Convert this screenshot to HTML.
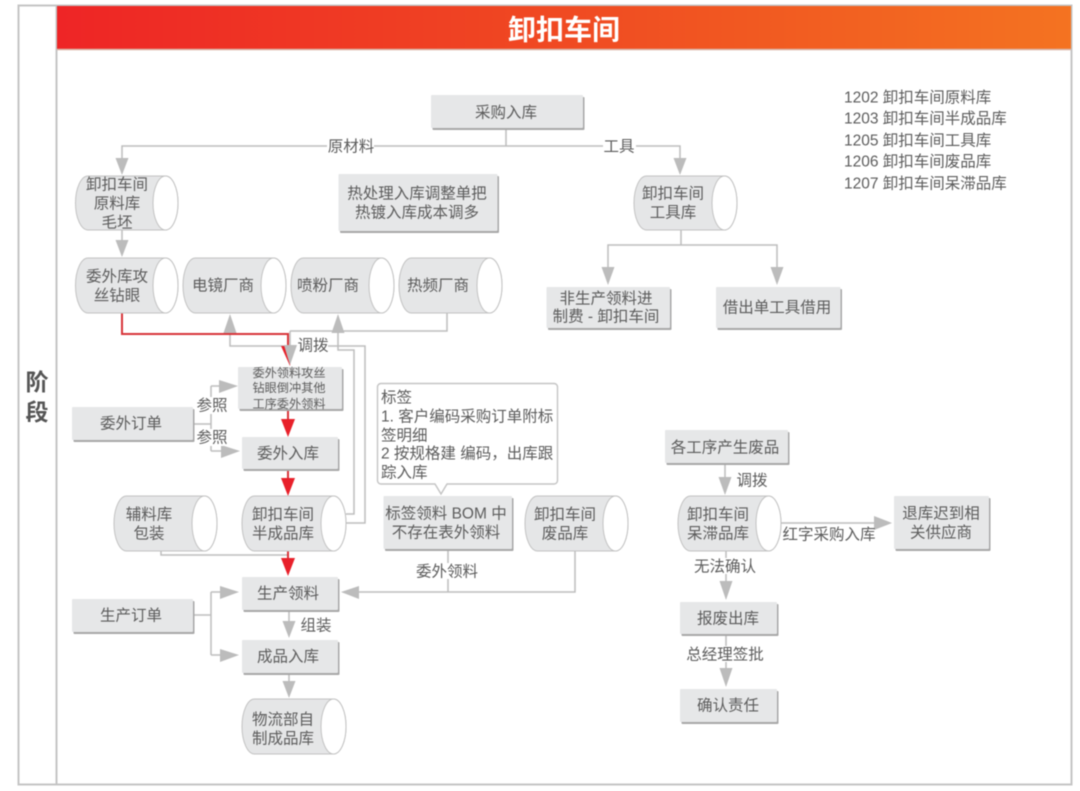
<!DOCTYPE html>
<html lang="zh">
<head>
<meta charset="utf-8">
<title>卸扣车间</title>
<style>
html,body{margin:0;padding:0;background:#fff;width:1080px;height:791px;overflow:hidden}
svg{display:block;filter:blur(.45px)}
text{font-family:"Liberation Sans","Noto Sans CJK SC",sans-serif;fill:#5c5c5c;font-size:15.5px;text-anchor:middle;dominant-baseline:central;transform:translateY(1px)}
.l{text-anchor:start}
.line{fill:none;stroke:#bdbdbd;stroke-width:1.5}
.red{fill:none;stroke:#d8353a;stroke-width:2}
.ah{fill:#bcbcbc}
.rh{fill:#e8202a}
.sh{fill:#a8a8a8}
.bx{fill:#e6e7e8}
.cy{fill:#e5e6e7;stroke:#c2c2c2;stroke-width:1}
.ce{fill:#fff;stroke:#c2c2c2;stroke-width:1}
.lb{fill:#fff}
</style>
</head>
<body>
<svg width="1080" height="791" viewBox="0 0 1080 791" xmlns="http://www.w3.org/2000/svg">
<defs>
<linearGradient id="g" x1="0" x2="1" y1="0" y2="0">
<stop offset="0" stop-color="#ee2526"/>
<stop offset=".5" stop-color="#f04a22"/>
<stop offset="1" stop-color="#f47321"/>
</linearGradient>
</defs>

<!-- frame -->
<rect x="18.5" y="5.5" width="1053" height="779" fill="#fff" stroke="#c4c4c4" stroke-width="2"/>
<path d="M56.5 6V785" stroke="#c4c4c4" stroke-width="2" fill="none"/>
<rect x="57" y="6" width="1014" height="43" fill="url(#g)"/>
<path d="M57 49.5H1071" stroke="#d9b3a5" stroke-width="1.5"/>
<text x="564" y="29" style="font-size:28px;font-weight:700;fill:#fff">卸扣车间</text>
<text x="37" y="381" style="font-size:23px;font-weight:700;fill:#555">阶</text>
<text x="37" y="411" style="font-size:23px;font-weight:700;fill:#555">段</text>

<!-- connectors: gray -->
<path class="line" d="M506 128V146M122 160V146H680V160"/>
<path class="line" d="M122 230V242"/>
<path class="line" d="M230 330V346H290"/>
<path class="line" d="M290 331H447V313M290 331V346"/>
<path class="line" d="M338 330V350H354V514H346"/>
<path class="line" d="M328 346H365V523H346"/>
<path class="line" d="M193 424H211M211 386V451M211 386H222M211 451H224"/>
<path class="line" d="M161 551V555H288"/>
<path class="line" d="M575 551V592H355M448 549V592"/>
<path class="line" d="M193 615H211M211 592V655M211 592H222M211 655H224"/>
<path class="line" d="M289 610V625M289 673V683"/>
<path class="line" d="M681 230V245M608 270V245H777V270"/>
<path class="line" d="M725 463V480M726 551V585M726 634V672M781 523H878"/>

<!-- red path -->
<path class="red" d="M122 313V334H288V350"/>
<path class="red" d="M288 409V420M288 469V478M288 551V560"/>
<polygon class="rh" points="281,346 292,346 290,366"/>
<polygon class="rh" points="281,419 295,419 288,437"/>
<polygon class="rh" points="281,478 295,478 288,496"/>
<polygon class="rh" points="281,558 295,558 288,576"/>

<!-- gray arrowheads -->
<polygon class="ah" points="115.500,158 128.500,158 122,175"/>
<polygon class="ah" points="115.500,240 128.500,240 122,257"/>
<polygon class="ah" points="673.500,158 686.500,158 680,175"/>
<polygon class="ah" points="223.500,333 236.500,333 230,314"/>
<polygon class="ah" points="331.500,333 344.500,333 338,314"/>
<polygon class="ah" points="284,345 297,345 290,365"/>
<polygon class="ah" points="219,380 238,386 219,393"/>
<polygon class="ah" points="221,445 240,451 221,458"/>
<polygon class="ah" points="220,586 239,592 220,599"/>
<polygon class="ah" points="220,649 239,655 220,662"/>
<polygon class="ah" points="359,586 341,592 359,599"/>
<polygon class="ah" points="282.500,621 295.500,621 289,638"/>
<polygon class="ah" points="282.500,681 295.500,681 289,698"/>
<polygon class="ah" points="601.500,267 614.500,267 608,285"/>
<polygon class="ah" points="770.500,267 783.500,267 777,285"/>
<polygon class="ah" points="718.500,477 731.500,477 725,495"/>
<polygon class="ah" points="719.500,581 732.500,581 726,600"/>
<polygon class="ah" points="719.500,668 732.500,668 726,687"/>
<polygon class="ah" points="874,516 892,523 874,530"/>

<!-- boxes -->
<rect class="sh" x="432.500" y="97" width="152" height="33" rx="1"/><rect class="bx" x="431" y="95" width="152" height="33" rx="1"/>
<rect class="sh" x="340" y="176" width="159" height="57" rx="1"/><rect class="bx" x="338.500" y="174" width="159" height="57" rx="1"/>
<rect class="sh" x="548" y="289" width="123.500" height="41" rx="1"/><rect class="bx" x="546.500" y="287" width="123.500" height="41" rx="1"/>
<rect class="sh" x="717.500" y="289" width="124.500" height="41" rx="1"/><rect class="bx" x="716" y="287" width="124.500" height="41" rx="1"/>
<rect class="sh" x="239.500" y="369" width="104" height="42" rx="1"/><rect class="bx" x="238" y="367" width="104" height="42" rx="1"/>
<rect class="sh" x="73.500" y="409" width="121" height="33" rx="1"/><rect class="bx" x="72" y="407" width="121" height="33" rx="1"/>
<rect class="sh" x="243.500" y="439" width="96" height="32" rx="1"/><rect class="bx" x="242" y="437" width="96" height="32" rx="1"/>
<rect class="sh" x="385" y="498" width="128.500" height="53" rx="1"/><rect class="bx" x="383.500" y="496" width="128.500" height="53" rx="1"/>
<rect class="sh" x="243.500" y="579" width="96" height="33" rx="1"/><rect class="bx" x="242" y="577" width="96" height="33" rx="1"/>
<rect class="sh" x="73.500" y="601" width="121" height="33" rx="1"/><rect class="bx" x="72" y="599" width="121" height="33" rx="1"/>
<rect class="sh" x="243.500" y="642" width="96" height="33" rx="1"/><rect class="bx" x="242" y="640" width="96" height="33" rx="1"/>
<rect class="sh" x="666.500" y="432" width="123" height="33" rx="1"/><rect class="bx" x="665" y="430" width="123" height="33" rx="1"/>
<rect class="sh" x="895.500" y="498" width="95" height="53" rx="1"/><rect class="bx" x="894" y="496" width="95" height="53" rx="1"/>
<rect class="sh" x="681.500" y="604" width="97" height="32" rx="1"/><rect class="bx" x="680" y="602" width="97" height="32" rx="1"/>
<rect class="sh" x="681.500" y="691" width="97" height="33" rx="1"/><rect class="bx" x="680" y="689" width="97" height="33" rx="1"/>

<!-- cylinders -->
<path class="cy" d="M88 176H165.500A12.500 27 0 0 1 165.500 230H88A12.500 27 0 0 1 88 176Z"/><ellipse class="ce" cx="165.500" cy="203" rx="12.500" ry="27"/>
<path class="cy" d="M88 258H165.500A12.500 27.500 0 0 1 165.500 313H88A12.500 27.500 0 0 1 88 258Z"/><ellipse class="ce" cx="165.500" cy="285.500" rx="12.500" ry="27.500"/>
<path class="cy" d="M195.500 258H273.500A12.500 27.500 0 0 1 273.500 313H195.500A12.500 27.500 0 0 1 195.500 258Z"/><ellipse class="ce" cx="273.500" cy="285.500" rx="12.500" ry="27.500"/>
<path class="cy" d="M303.500 258H381.500A12.500 27.500 0 0 1 381.500 313H303.500A12.500 27.500 0 0 1 303.500 258Z"/><ellipse class="ce" cx="381.500" cy="285.500" rx="12.500" ry="27.500"/>
<path class="cy" d="M411.500 258H489.500A12.500 27.500 0 0 1 489.500 313H411.500A12.500 27.500 0 0 1 411.500 258Z"/><ellipse class="ce" cx="489.500" cy="285.500" rx="12.500" ry="27.500"/>
<path class="cy" d="M646.500 176H724.500A12.500 27 0 0 1 724.500 230H646.500A12.500 27 0 0 1 646.500 176Z"/><ellipse class="ce" cx="724.500" cy="203" rx="12.500" ry="27"/>
<path class="cy" d="M126.500 496H204.500A12.500 27.500 0 0 1 204.500 551H126.500A12.500 27.500 0 0 1 126.500 496Z"/><ellipse class="ce" cx="204.500" cy="523.500" rx="12.500" ry="27.500"/>
<path class="cy" d="M254.500 496H333.500A12.500 27.500 0 0 1 333.500 551H254.500A12.500 27.500 0 0 1 254.500 496Z"/><ellipse class="ce" cx="333.500" cy="523.500" rx="12.500" ry="27.500"/>
<path class="cy" d="M254.500 699H333.500A12.500 27.500 0 0 1 333.500 754H254.500A12.500 27.500 0 0 1 254.500 699Z"/><ellipse class="ce" cx="333.500" cy="726.500" rx="12.500" ry="27.500"/>
<path class="cy" d="M537.500 496H615.500A12.500 27.500 0 0 1 615.500 551H537.500A12.500 27.500 0 0 1 537.500 496Z"/><ellipse class="ce" cx="615.500" cy="523.500" rx="12.500" ry="27.500"/>
<path class="cy" d="M690.500 496H768.500A12.500 27.500 0 0 1 768.500 551H690.500A12.500 27.500 0 0 1 690.500 496Z"/><ellipse class="ce" cx="768.500" cy="523.500" rx="12.500" ry="27.500"/>

<!-- callout -->
<path d="M381 383.500H554A3.500 3.500 0 0 1 557.500 387V480.500A3.500 3.500 0 0 1 554 484H447L441 494L435 484H381A3.500 3.500 0 0 1 377.500 480.500V387A3.500 3.500 0 0 1 381 383.500Z" fill="#fff" stroke="#c4c4c4" stroke-width="1.4"/>

<!-- connector label backgrounds -->
<rect class="lb" x="327" y="138" width="47" height="16"/>
<rect class="lb" x="603" y="138" width="33" height="16"/>
<rect class="lb" x="297" y="337" width="31" height="17"/>
<rect class="lb" x="197" y="397" width="31" height="17"/>
<rect class="lb" x="197" y="429" width="31" height="17"/>
<rect class="lb" x="694" y="558" width="63" height="16"/>
<rect class="lb" x="686" y="646" width="79" height="16"/>
<rect class="lb" x="416" y="563" width="63" height="16"/>

<!-- node text -->
<text x="506" y="112">采购入库</text>
<text x="117" y="184">卸扣车间</text><text x="117" y="203">原料库</text><text x="117" y="222">毛坯</text>
<text x="417" y="193">热处理入库调整单把</text><text x="417" y="212">热镀入库成本调多</text>
<text x="673" y="193">卸扣车间</text><text x="673" y="212">工具库</text>
<text x="117" y="276">委外库攻</text><text x="117" y="295">丝钻眼</text>
<text x="223" y="285">电镜厂商</text>
<text x="328" y="285">喷粉厂商</text>
<text x="438" y="285">热频厂商</text>
<text x="606" y="298">非生产领料进</text><text x="606" y="316">制费 - 卸扣车间</text>
<text x="777" y="307">借出单工具借用</text>
<text x="289" y="372" style="font-size:12.200px">委外领料攻丝</text><text x="289" y="387" style="font-size:12.200px">钻眼倒冲其他</text><text x="289" y="403" style="font-size:12.200px">工序委外领料</text>
<text x="131" y="423">委外订单</text>
<text x="288" y="453">委外入库</text>
<text x="149" y="514">辅料库</text><text x="149" y="533">包装</text>
<text x="283" y="514">卸扣车间</text><text x="283" y="533">半成品库</text>
<text x="446" y="513">标签领料 BOM 中</text><text x="446" y="532">不存在表外领料</text>
<text x="565" y="514">卸扣车间</text><text x="565" y="533">废品库</text>
<text x="288" y="593">生产领料</text>
<text x="131" y="615">生产订单</text>
<text x="288" y="656">成品入库</text>
<text x="283" y="719">物流部自</text><text x="283" y="738">制成品库</text>
<text x="725" y="447">各工序产生废品</text>
<text x="718" y="514">卸扣车间</text><text x="718" y="533">呆滞品库</text>
<text x="941" y="513">退库迟到相</text><text x="941" y="532">关供应商</text>
<text x="728" y="618">报废出库</text>
<text x="728" y="705">确认责任</text>

<!-- callout text -->
<text class="l" x="381" y="397">标签</text>
<text class="l" x="381" y="416">1. 客户编码采购订单附标</text>
<text class="l" x="381" y="435">签明细</text>
<text class="l" x="381" y="453">2 按规格建 编码，出库跟</text>
<text class="l" x="381" y="472">踪入库</text>

<!-- connector labels -->
<text x="351" y="146">原材料</text>
<text x="619" y="146">工具</text>
<text x="313" y="345">调拨</text>
<text x="212" y="405">参照</text>
<text x="212" y="437">参照</text>
<text x="447" y="571">委外领料</text>
<text x="316" y="625">组装</text>
<text x="752" y="480">调拨</text>
<text x="829" y="534">红字采购入库</text>
<text x="725" y="566">无法确认</text>
<text x="725" y="654">总经理签批</text>

<!-- legend -->
<text class="l" x="844" y="97" style="font-size:15.500px">1202 卸扣车间原料库</text>
<text class="l" x="844" y="118" style="font-size:15.500px">1203 卸扣车间半成品库</text>
<text class="l" x="844" y="140" style="font-size:15.500px">1205 卸扣车间工具库</text>
<text class="l" x="844" y="161" style="font-size:15.500px">1206 卸扣车间废品库</text>
<text class="l" x="844" y="183" style="font-size:15.500px">1207 卸扣车间呆滞品库</text>
</svg>
</body>
</html>
